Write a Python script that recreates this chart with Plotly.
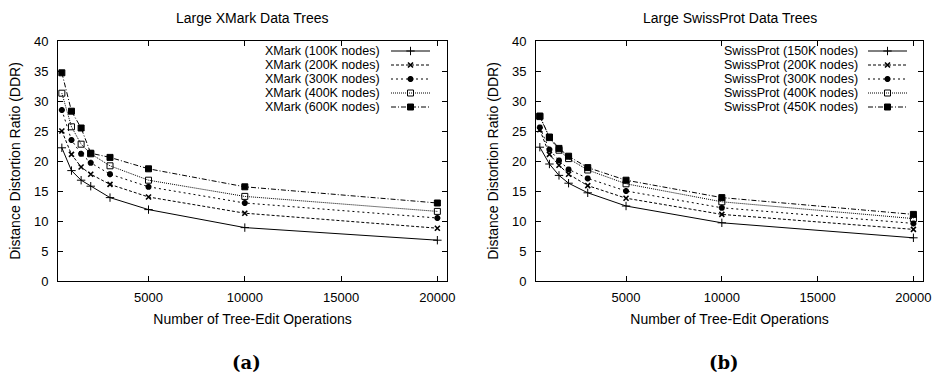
import plotly.graph_objects as go

# ---------------- data ----------------
edit_ops = [500, 1000, 1500, 2000, 3000, 5000, 10000, 20000]

xmark_labels = ["XMark (100K nodes)", "XMark (200K nodes)", "XMark (300K nodes)",
                "XMark (400K nodes)", "XMark (600K nodes)"]
xmark_100k = [22.2, 18.4, 16.8, 15.8, 13.9, 11.9, 8.9, 6.8]
xmark_200k = [25.0, 21.1, 19.0, 17.8, 16.1, 14.0, 11.3, 8.8]
xmark_300k = [28.5, 23.5, 21.2, 19.7, 17.8, 15.7, 13.0, 10.5]
xmark_400k = [31.3, 25.7, 22.8, 21.2, 19.2, 16.8, 14.1, 11.6]
xmark_600k = [34.7, 28.3, 25.5, 21.3, 20.6, 18.7, 15.7, 13.0]

swiss_labels = ["SwissProt (150K nodes)", "SwissProt (200K nodes)", "SwissProt (300K nodes)",
                "SwissProt (400K nodes)", "SwissProt (450K nodes)"]
swiss_150k = [22.3, 19.5, 17.6, 16.3, 14.7, 12.5, 9.7, 7.2]
swiss_200k = [25.2, 21.1, 19.3, 17.8, 15.9, 13.8, 11.1, 8.6]
swiss_300k = [25.6, 21.9, 20.1, 18.6, 17.1, 15.0, 12.2, 9.6]
swiss_400k = [27.4, 23.9, 21.8, 20.4, 18.5, 16.2, 13.2, 10.4]
swiss_450k = [27.5, 24.0, 22.1, 20.8, 18.9, 16.8, 13.9, 11.1]

x_tickvals = [5000, 10000, 15000, 20000]
x_ticktext = ["5000", "10000", "15000", "20000"]
y_tickvals = [0, 5, 10, 15, 20, 25, 30, 35, 40]

titles = ["Large XMark Data Trees", "Large SwissProt Data Trees"]
captions = ["(a)", "(b)"]
x_title = "Number of Tree-Edit Operations"
y_title = "Distance Distortion Ratio (DDR)"

# ---------------- styles ----------------
W, H = 935, 374
FONT = "Liberation Sans, Arial, sans-serif"
styles = [
    dict(dash="solid", symbol="cross-thin-open", size=6, lw=1.0),
    dict(dash="3px,2px", symbol="x-thin-open", size=5, lw=1.6),
    dict(dash="2px,3px", symbol="asterisk-open", size=5, lw=2.0),
    dict(dash="1px,1px", symbol="square-open", size=6, lw=1.0),
    dict(dash="5px,2px,1px,2px", symbol="square", size=6, lw=1.0),
]

# plot areas in pixels
left_px = [(58, 447), (536, 923)]
top_px, bot_px = 41, 281
legend_text_right = [382, 860]
legend_line_x = [(391, 430), (868, 907)]
legend_row_y0, legend_row_dy = 51, 14.0
LEGEND_FONT = 12.5

fig = go.Figure()

panels = [
    (xmark_labels, [xmark_100k, xmark_200k, xmark_300k, xmark_400k, xmark_600k]),
    (swiss_labels, [swiss_150k, swiss_200k, swiss_300k, swiss_400k, swiss_450k]),
]

for p, (labels, series) in enumerate(panels):
    xa = "x" if p == 0 else "x2"
    ya = "y" if p == 0 else "y2"
    for s, (lab, vals) in enumerate(zip(labels, series)):
        st = styles[s]
        fig.add_trace(go.Scatter(
            x=edit_ops, y=vals, name=lab, mode="lines+markers",
            xaxis=xa, yaxis=ya, showlegend=False,
            line=dict(color="black", width=1, dash=st["dash"]),
            marker=dict(symbol=st["symbol"], size=st["size"], color="black",
                        line=dict(color="black", width=st["lw"])),
        ))
    # custom legend (text left of sample, like gnuplot)
    x0, x1 = legend_line_x[p]
    for s, lab in enumerate(labels):
        st = styles[s]
        yy = legend_row_y0 + s * legend_row_dy
        fig.add_trace(go.Scatter(
            x=[x0, x1], y=[yy, yy], mode="lines", xaxis="x3", yaxis="y3",
            showlegend=False, hoverinfo="skip",
            line=dict(color="black", width=1, dash=st["dash"]),
        ))
        fig.add_trace(go.Scatter(
            x=[(x0 + x1) / 2], y=[yy], mode="markers", xaxis="x3", yaxis="y3",
            showlegend=False, hoverinfo="skip",
            marker=dict(symbol=st["symbol"], size=st["size"], color="black",
                        line=dict(color="black", width=st["lw"])),
        ))
        fig.add_annotation(x=legend_text_right[p], y=yy, xref="x3", yref="y3",
                           text=lab, showarrow=False, xanchor="right", yanchor="middle",
                           font=dict(family=FONT, size=LEGEND_FONT, color="black"))
    # title & caption
    cx = (left_px[p][0] + left_px[p][1]) / 2
    fig.add_annotation(x=cx, y=18, xref="x3", yref="y3", text=titles[p],
                       showarrow=False, xanchor="center", yanchor="middle",
                       font=dict(family=FONT, size=14, color="black"))
    fig.add_annotation(x=cx - 6, y=362, xref="x3", yref="y3", text="<b>" + captions[p] + "</b>",
                       showarrow=False, xanchor="center", yanchor="middle",
                       font=dict(family="DejaVu Serif, serif", size=18, color="black"))

ydom = [1 - bot_px / H, 1 - top_px / H]
common_x = dict(range=[300, 20500], tickvals=x_tickvals, ticktext=x_ticktext,
                ticks="inside", ticklen=5, tickwidth=1, tickcolor="black",
                showline=True, linecolor="black", linewidth=1, mirror="allticks",
                showgrid=False, zeroline=False, automargin=False,
                tickfont=dict(family=FONT, size=13, color="black"),
                ticklabelstandoff=4,
                title=dict(text=x_title, standoff=10, font=dict(family=FONT, size=14, color="black")))
common_y = dict(range=[0, 40], tickvals=y_tickvals,
                ticks="inside", ticklen=5, tickwidth=1, tickcolor="black",
                showline=True, linecolor="black", linewidth=1, mirror="allticks",
                showgrid=False, zeroline=False, automargin=False,
                tickfont=dict(family=FONT, size=13, color="black"),
                ticklabelstandoff=6,
                title=dict(text=y_title, standoff=10, font=dict(family=FONT, size=14, color="black")))

fig.update_layout(
    width=W, height=H, margin=dict(l=0, r=0, t=0, b=0),
    paper_bgcolor="white", plot_bgcolor="rgba(0,0,0,0)",
    xaxis=dict(domain=[left_px[0][0] / W, left_px[0][1] / W], anchor="y", **common_x),
    yaxis=dict(domain=ydom, anchor="x", **common_y),
    xaxis2=dict(domain=[left_px[1][0] / W, left_px[1][1] / W], anchor="y2", **common_x),
    yaxis2=dict(domain=ydom, anchor="x2", **common_y),
    xaxis3=dict(domain=[0, 1], range=[0, W], visible=False, anchor="y3", fixedrange=True),
    yaxis3=dict(domain=[0, 1], range=[H, 0], visible=False, anchor="x3", fixedrange=True),
    showlegend=False,
)

fig.write_html("out.html")
